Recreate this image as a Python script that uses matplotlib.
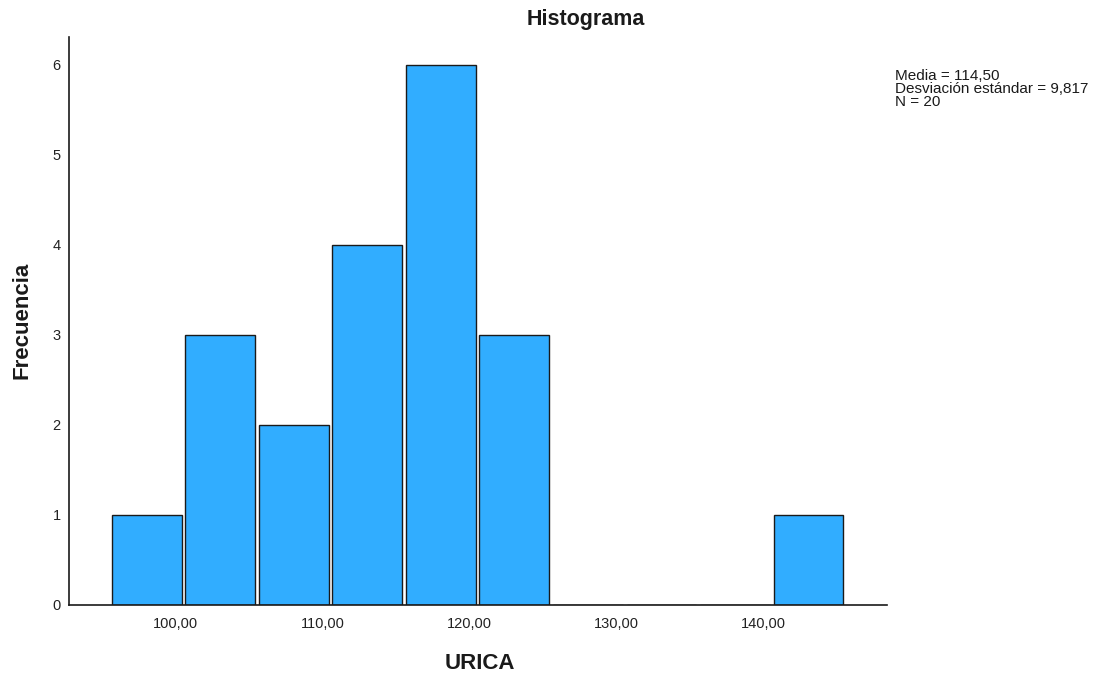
import numpy as np
import matplotlib.pyplot as plt

# histogram data
bin_edges = [95.55, 100.55, 105.55, 110.55, 115.55, 120.55,
             125.55, 130.55, 135.55, 140.55, 145.55]
counts = [1, 3, 2, 4, 6, 3, 0, 0, 0, 1]
x_ticks = [100, 110, 120, 130, 140]
x_tick_labels = ['100,00', '110,00', '120,00', '130,00', '140,00']
y_ticks = [0, 1, 2, 3, 4, 5, 6]
stats_lines = ['Media = 114,50', 'Desviación estándar = 9,817', 'N = 20']

plt.rcParams['font.family'] = ['Liberation Sans', 'DejaVu Sans']

fig = plt.figure(figsize=(11, 6.74), dpi=100)
ax = fig.add_axes([0.0627, 0.1024, 0.7437, 0.8426])

edges = np.array(bin_edges)
widths = np.diff(edges)
ax.bar(edges[:-1] + 0.13, counts, width=widths - 0.26, align='edge',
       color='#31adff', edgecolor='#1a1a1a', linewidth=1.0)

ax.set_xlim(92.76, 148.4)
ax.set_ylim(0, 6.31)
ax.set_xticks(x_ticks)
ax.set_xticklabels(x_tick_labels)
ax.set_yticks(y_ticks)
ax.tick_params(length=0, labelsize=10.5, colors='#222222', pad=9)
ax.tick_params(axis='y', pad=6)

for s in ['top', 'right']:
    ax.spines[s].set_visible(False)
for s in ['left', 'bottom']:
    ax.spines[s].set_linewidth(1.2)
    ax.spines[s].set_color('#1a1a1a')

fig.text(0.533, 0.971, 'Histograma', ha='center', va='center',
         fontsize=15.5, fontweight='bold', color='#1a1a1a')
fig.text(0.436, 0.016, 'URICA', ha='center', va='center',
         fontsize=16, fontweight='bold', color='#1a1a1a')
fig.text(0.020, 0.525, 'Frecuencia', ha='center', va='center',
         rotation=90, fontsize=16, fontweight='bold', color='#1a1a1a')
fig.text(0.814, 0.898, '\n'.join(stats_lines), ha='left', va='top',
         fontsize=11, linespacing=0.93, color='#1a1a1a')

plt.savefig('out.png', dpi=100)
